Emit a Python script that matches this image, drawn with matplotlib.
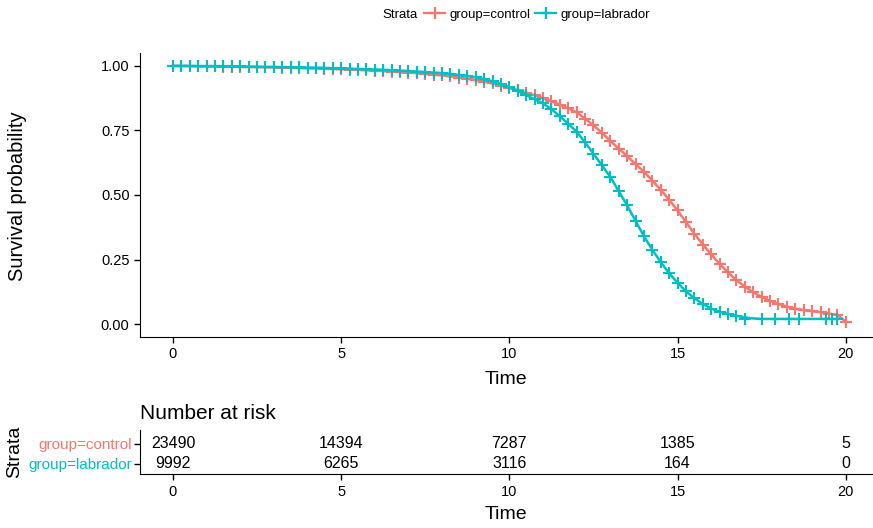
import numpy as np
import matplotlib.pyplot as plt

plt.rcParams['font.family'] = ['Liberation Sans', 'DejaVu Sans']

red = '#F8766D'
cyan = '#00BFC4'

# survival, every 0.25 time units
t_ctrl = np.arange(0, 20.01, 0.25)
s_ctrl = [1.000, 1.000, 0.999, 0.999, 0.998, 0.998, 0.997, 0.997, 0.996, 0.996,
          0.995, 0.995, 0.994, 0.993, 0.993, 0.992, 0.991, 0.990, 0.989, 0.988,
          0.987, 0.986, 0.985, 0.983, 0.982, 0.980, 0.978, 0.976, 0.974, 0.972,
          0.969, 0.966, 0.963, 0.959, 0.955, 0.950, 0.945, 0.939, 0.932, 0.924,
          0.915, 0.906, 0.897, 0.886, 0.875, 0.863, 0.850, 0.836, 0.820, 0.796,
          0.770, 0.741, 0.710, 0.680, 0.650, 0.620, 0.590, 0.556, 0.520, 0.481,
          0.440, 0.395, 0.350, 0.308, 0.270, 0.233, 0.200, 0.170, 0.145, 0.123,
          0.105, 0.090, 0.078, 0.068, 0.060, 0.054, 0.050, 0.046, 0.041, 0.035,
          0.010]

t_lab = np.arange(0, 19.76, 0.25)
s_lab = [1.000, 1.000, 1.000, 0.999, 0.999, 0.999, 0.998, 0.998, 0.998, 0.997,
         0.997, 0.996, 0.996, 0.995, 0.995, 0.994, 0.993, 0.993, 0.992, 0.991,
         0.990, 0.989, 0.988, 0.987, 0.986, 0.985, 0.983, 0.982, 0.980, 0.978,
         0.976, 0.974, 0.972, 0.969, 0.965, 0.961, 0.956, 0.949, 0.940, 0.930,
         0.918, 0.903, 0.887, 0.871, 0.855, 0.832, 0.805, 0.776, 0.745, 0.704,
         0.660, 0.615, 0.570, 0.515, 0.460, 0.400, 0.340, 0.288, 0.240, 0.197,
         0.160, 0.127, 0.100, 0.078, 0.060, 0.048, 0.039, 0.032, 0.026, 0.022,
         0.020, 0.020, 0.020, 0.020, 0.020, 0.020, 0.020, 0.020, 0.020, 0.020]
# sparse censor marks on the labrador tail
lab_tail_censor = [17.0, 17.5, 17.9, 18.3, 18.6, 19.4, 19.6, 19.75]
lab_tail_surv = 0.020

strata = ['group=control', 'group=labrador']
risk_times = [0, 5, 10, 15, 20]
risk_ctrl = [23490, 14394, 7287, 1385, 5]
risk_lab = [9992, 6265, 3116, 164, 0]

W, H = 873, 528
fig = plt.figure(figsize=(W / 100, H / 100), dpi=100)

# main survival panel
ax = fig.add_axes([140 / W, 1 - 337 / H, (872 - 140) / W, (337 - 53) / H])
ax.plot(t_ctrl, s_ctrl, color=red, lw=1.8, marker='+', ms=8, mew=1.5)
ax.plot(t_lab, s_lab, color=cyan, lw=1.8)
dense = t_lab < 16.9
ax.plot(t_lab[dense], np.array(s_lab)[dense], color=cyan, ls='none',
        marker='+', ms=8, mew=1.5)
ax.plot(lab_tail_censor, [lab_tail_surv] * len(lab_tail_censor), color=cyan,
        ls='none', marker='+', ms=8, mew=1.5)

ax.set_xlim(-0.98, 20.78)
ax.set_ylim(-0.05, 1.05)
ax.set_xticks([0, 5, 10, 15, 20])
ax.set_yticks([0, 0.25, 0.5, 0.75, 1.0])
ax.set_yticklabels(['0.00', '0.25', '0.50', '0.75', '1.00'])
for s in ['top', 'right']:
    ax.spines[s].set_visible(False)
ax.tick_params(labelsize=10.5, length=4, width=1)
ax.set_xlabel('Time', fontsize=14, labelpad=7)
fig.text(18 / W, 1 - 196 / H, 'Survival probability', rotation=90,
         ha='center', va='center', fontsize=14.5)

# legend on top
fig.text(418 / W, 1 - 15 / H, 'Strata', ha='right', va='center', fontsize=9.5)
handles = [plt.Line2D([], [], color=red, marker='+', ms=9, mew=1.6, lw=1.6),
           plt.Line2D([], [], color=cyan, marker='+', ms=9, mew=1.6, lw=1.6)]
fig.legend(handles, strata, loc='center left', bbox_to_anchor=(424 / W, 1 - 15 / H),
           ncol=2, frameon=False, fontsize=9.5, handlelength=1.6,
           handletextpad=0.3, columnspacing=0.4, borderpad=0, borderaxespad=0)

# number at risk table
ax2 = fig.add_axes([140 / W, 1 - 474 / H, (872 - 140) / W, 44 / H])
ax2.set_xlim(ax.get_xlim())
ax2.set_ylim(0.5, 2.7)
for x, n in zip(risk_times, risk_ctrl):
    ax2.text(x, 2, str(n), ha='center', va='center', fontsize=11.5)
for x, n in zip(risk_times, risk_lab):
    ax2.text(x, 1, str(n), ha='center', va='center', fontsize=11.5)
ax2.set_xticks(risk_times)
ax2.set_yticks([2, 1])
ax2.set_yticklabels(strata)
for lbl, c in zip(ax2.get_yticklabels(), [red, cyan]):
    lbl.set_color(c)
for s in ['top', 'right']:
    ax2.spines[s].set_visible(False)
ax2.tick_params(labelsize=11, length=4, width=1, pad=2)
ax2.tick_params(axis='x', labelsize=10.5, pad=4)
ax2.set_xlabel('Time', fontsize=14, labelpad=5)
ax2.set_title('Number at risk', loc='left', fontsize=15, pad=8)
fig.text(15 / W, 1 - 452 / H, 'Strata', rotation=90, ha='center', va='center',
         fontsize=14)

fig.savefig('out.png', dpi=100)
